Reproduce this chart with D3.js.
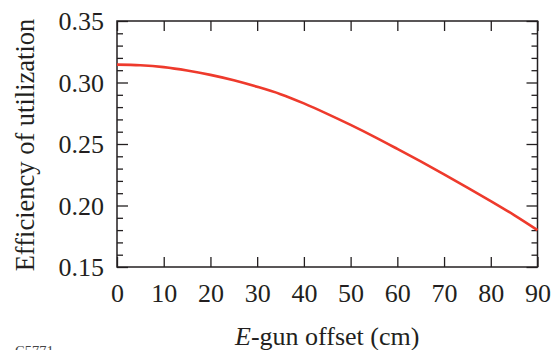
<!DOCTYPE html>
<html>
<head>
<meta charset="utf-8">
<script src="https://cdn.jsdelivr.net/npm/d3@7"></script>
</head>
<body style="margin:0;padding:0;background:#fff">
<script>
// ---- data ----
const offsets = [0, 5, 10, 15, 20, 25, 30, 35, 40, 45, 50, 55, 60, 65, 70, 75, 80, 85, 90];
const efficiency = [0.3145, 0.3140, 0.3125, 0.3098, 0.3062, 0.3018, 0.2965, 0.2905, 0.2830, 0.2745,
                    0.2655, 0.2560, 0.2460, 0.2358, 0.2253, 0.2146, 0.2036, 0.1922, 0.1800];
const xTicks = [0, 10, 20, 30, 40, 50, 60, 70, 80, 90];
const yTicks = [0.15, 0.20, 0.25, 0.30, 0.35];
const yMinorTicks = d3.range(0, 21).map(i => +(0.15 + i * 0.01).toFixed(2));
const xLabel = "-gun offset (cm)";
const yLabel = "Efficiency of utilization";
const figId = "C5771";

// ---- layout ----
const W = 556, H = 350;
const m = { left: 117, right: 556 - 537.5, top: 21, bottom: 350 - 267 };
const iw = W - m.left - m.right, ih = H - m.top - m.bottom;

const svg = d3.select("body").append("svg").attr("width", W).attr("height", H).style("display", "block");
const g = svg.append("g").attr("transform", `translate(${m.left},${m.top})`);

const x = d3.scaleLinear().domain([0, 90]).range([0, iw]);
const y = d3.scaleLinear().domain([0.15, 0.35]).range([ih, 0]);

const axisColor = "#231f20";
const fontSize = 26;
const serif = '"Liberation Serif"';

// minor y ticks (inside, both sides)
const minor = yMinorTicks.filter(v => !yTicks.some(t => Math.abs(t - v) < 1e-9));
g.append("g")
  .call(d3.axisRight(y).tickValues(minor).tickSize(6).tickFormat(""))
  .call(s => s.select(".domain").remove());
g.append("g").attr("transform", `translate(${iw},0)`)
  .call(d3.axisLeft(y).tickValues(minor).tickSize(6).tickFormat(""))
  .call(s => s.select(".domain").remove());

// major y ticks inside both sides
g.append("g")
  .call(d3.axisRight(y).tickValues(yTicks).tickSize(11).tickFormat(""))
  .call(s => s.select(".domain").remove());
g.append("g").attr("transform", `translate(${iw},0)`)
  .call(d3.axisLeft(y).tickValues(yTicks).tickSize(11).tickFormat(""))
  .call(s => s.select(".domain").remove());

// major x ticks inside top & bottom
g.append("g").attr("transform", `translate(0,${ih})`)
  .call(d3.axisTop(x).tickValues(xTicks).tickSize(10).tickFormat(""))
  .call(s => s.select(".domain").remove());
g.append("g")
  .call(d3.axisBottom(x).tickValues(xTicks).tickSize(10).tickFormat(""))
  .call(s => s.select(".domain").remove());

g.selectAll(".tick line").attr("stroke", axisColor).attr("stroke-width", 1.3);

// y tick labels
g.append("g")
  .call(d3.axisLeft(y).tickValues(yTicks).tickSize(0).tickPadding(13).tickFormat(d3.format(".2f")))
  .call(s => s.select(".domain").remove())
  .call(s => s.selectAll("text").attr("font-size", fontSize).style("font-family", serif)
    .attr("fill", axisColor).attr("dy", "0.33em"));

// x tick labels
g.append("g").attr("transform", `translate(0,${ih})`)
  .call(d3.axisBottom(x).tickValues(xTicks).tickSize(0).tickPadding(16.5).tickFormat(d3.format("d")))
  .call(s => s.select(".domain").remove())
  .call(s => s.selectAll("text").attr("font-size", fontSize).style("font-family", serif).attr("fill", axisColor));

// frame
g.append("rect").attr("x", 0).attr("y", 0).attr("width", iw).attr("height", ih)
  .attr("fill", "none").attr("stroke", axisColor).attr("stroke-width", 1.5);

// curve
const line = d3.line().x((d, i) => x(offsets[i])).y(d => y(d)).curve(d3.curveMonotoneX);
g.append("path").datum(efficiency)
  .attr("d", line).attr("fill", "none")
  .attr("stroke", "#ee3a2c").attr("stroke-width", 2.6);

// x axis title
const xt = svg.append("text").attr("x", m.left + iw / 2).attr("y", 345)
  .attr("text-anchor", "middle").attr("font-size", fontSize)
  .style("font-family", serif).attr("fill", axisColor);
xt.append("tspan").attr("font-style", "italic").text("E");
xt.append("tspan").text(xLabel);

// y axis title
svg.append("text")
  .attr("transform", `translate(34,145) rotate(-90)`)
  .attr("text-anchor", "middle").attr("font-size", 26.5)
  .style("font-family", serif).attr("fill", axisColor)
  .text(yLabel);

// figure id (cut off at bottom, as in the reference)
svg.append("text").attr("x", 15).attr("y", 356).attr("font-size", 14.5)
  .style("font-family", serif).attr("fill", "#444").text(figId);
</script>
</body>
</html>
